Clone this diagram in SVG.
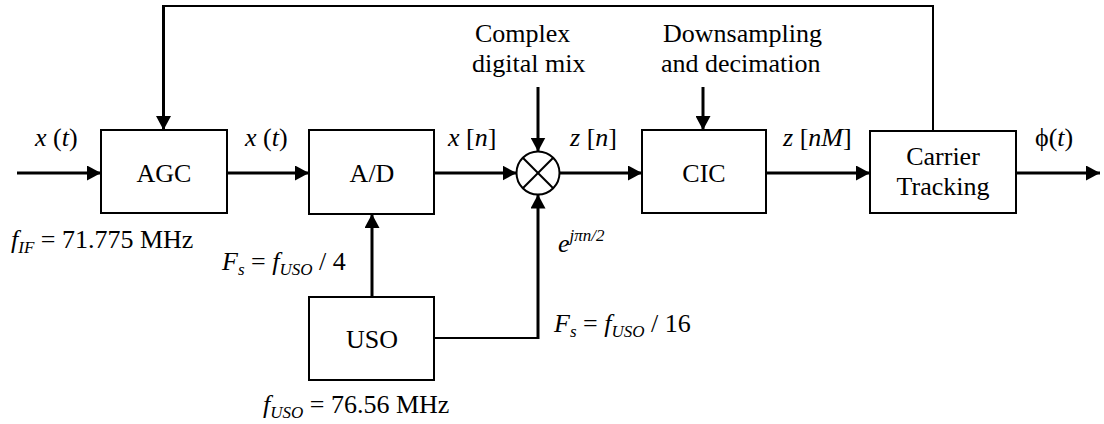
<svg xmlns="http://www.w3.org/2000/svg" width="1104" height="424" viewBox="0 0 1104 424" font-family="'Times New Roman', Times, 'Liberation Serif', Tinos, 'Noto Serif', 'DejaVu Serif', FreeSerif, serif">
<style>
text{font-size:26px;fill:#000}
.i{font-style:italic}
.sub{font-style:italic;font-size:17px}
.box{fill:#fff;stroke:#000;stroke-width:2}
.thick{fill:none;stroke:#000;stroke-width:3}
.thin{fill:none;stroke:#000;stroke-width:2}
.c{text-anchor:middle}
</style>
<defs>
<marker id="ah" markerUnits="userSpaceOnUse" markerWidth="14" markerHeight="15" refX="14" refY="7.5" orient="auto">
<path d="M0,0 L14,7.5 L0,15 z" fill="#000"/>
</marker>
</defs>
<g id="connectors">
<line class="thick" x1="17" y1="173" x2="101" y2="173" marker-end="url(#ah)"/>
<line class="thick" x1="227" y1="173" x2="309" y2="173" marker-end="url(#ah)"/>
<line class="thick" x1="434" y1="173" x2="516.5" y2="173" marker-end="url(#ah)"/>
<line class="thick" x1="559.5" y1="173" x2="642" y2="173" marker-end="url(#ah)"/>
<line class="thick" x1="766" y1="173" x2="870" y2="173" marker-end="url(#ah)"/>
<line class="thick" x1="1016" y1="173" x2="1100" y2="173" marker-end="url(#ah)"/>
<line class="thick" x1="538" y1="87" x2="538" y2="151.5" marker-end="url(#ah)"/>
<line class="thick" x1="703" y1="87" x2="703" y2="130" marker-end="url(#ah)"/>
<polyline class="thin" points="933,130 933,6 163.5,6"/>
<line class="thick" x1="163.5" y1="5" x2="163.5" y2="130" marker-end="url(#ah)"/>
<line class="thick" x1="372" y1="297" x2="372" y2="214" marker-end="url(#ah)"/>
<polyline class="thin" points="434,338 538,338"/>
<line class="thick" x1="538" y1="339" x2="538" y2="194.5" marker-end="url(#ah)"/>
</g>
<g id="agc">
<rect class="box" x="101" y="130" width="126" height="83"/>
<text class="c" x="164" y="182">AGC</text>
</g>
<g id="ad">
<rect class="box" x="309" y="130" width="125" height="84"/>
<text class="c" x="372" y="182">A/D</text>
</g>
<g id="mixer">
<circle cx="538" cy="173" r="21.5" fill="#fff" stroke="#000" stroke-width="2"/>
<line x1="522.8" y1="157.8" x2="553.2" y2="188.2" stroke="#000" stroke-width="2"/>
<line x1="553.2" y1="157.8" x2="522.8" y2="188.2" stroke="#000" stroke-width="2"/>
</g>
<g id="cic">
<rect class="box" x="642" y="130" width="124" height="83"/>
<text class="c" x="704" y="182">CIC</text>
</g>
<g id="carrier">
<rect class="box" x="870" y="131" width="146" height="82"/>
<text class="c" x="943" y="165">Carrier</text>
<text class="c" x="943" y="195">Tracking</text>
</g>
<g id="uso">
<rect class="box" x="309" y="297" width="125" height="83"/>
<text class="c" x="372" y="348">USO</text>
</g>
<g id="labels">
<text x="35" y="146"><tspan class="i">x</tspan> (<tspan class="i">t</tspan>)</text>
<text x="245" y="146"><tspan class="i">x</tspan> (<tspan class="i">t</tspan>)</text>
<text x="448" y="146"><tspan class="i">x</tspan> [<tspan class="i">n</tspan>]</text>
<text x="570" y="146"><tspan class="i">z</tspan> [<tspan class="i">n</tspan>]</text>
<text x="783" y="146"><tspan class="i">z</tspan> [<tspan class="i">nM</tspan>]</text>
<text x="1035" y="146">ϕ(<tspan class="i">t</tspan>)</text>
<text x="475" y="42">Complex</text>
<text x="472" y="72">digital mix</text>
<text x="663" y="42">Downsampling</text>
<text x="661" y="72">and decimation</text>
<text x="11" y="248"><tspan class="i">f</tspan><tspan class="sub" dy="5">IF</tspan><tspan dy="-5"> = 71.775 MHz</tspan></text>
<text x="222" y="270"><tspan class="i">F</tspan><tspan class="sub" dy="5">s</tspan><tspan dy="-5"> = </tspan><tspan class="i">f</tspan><tspan class="sub" dy="5">USO</tspan><tspan dy="-5"> / 4</tspan></text>
<text x="263" y="413"><tspan class="i">f</tspan><tspan class="sub" dy="5">USO</tspan><tspan dy="-5"> = 76.56 MHz</tspan></text>
<text x="554" y="332"><tspan class="i">F</tspan><tspan class="sub" dy="5">s</tspan><tspan dy="-5"> = </tspan><tspan class="i">f</tspan><tspan class="sub" dy="5">USO</tspan><tspan dy="-5"> / 16</tspan></text>
<text x="558" y="252"><tspan class="i">e</tspan><tspan class="sub" dy="-11">jπn/2</tspan></text>
</g>
</svg>
